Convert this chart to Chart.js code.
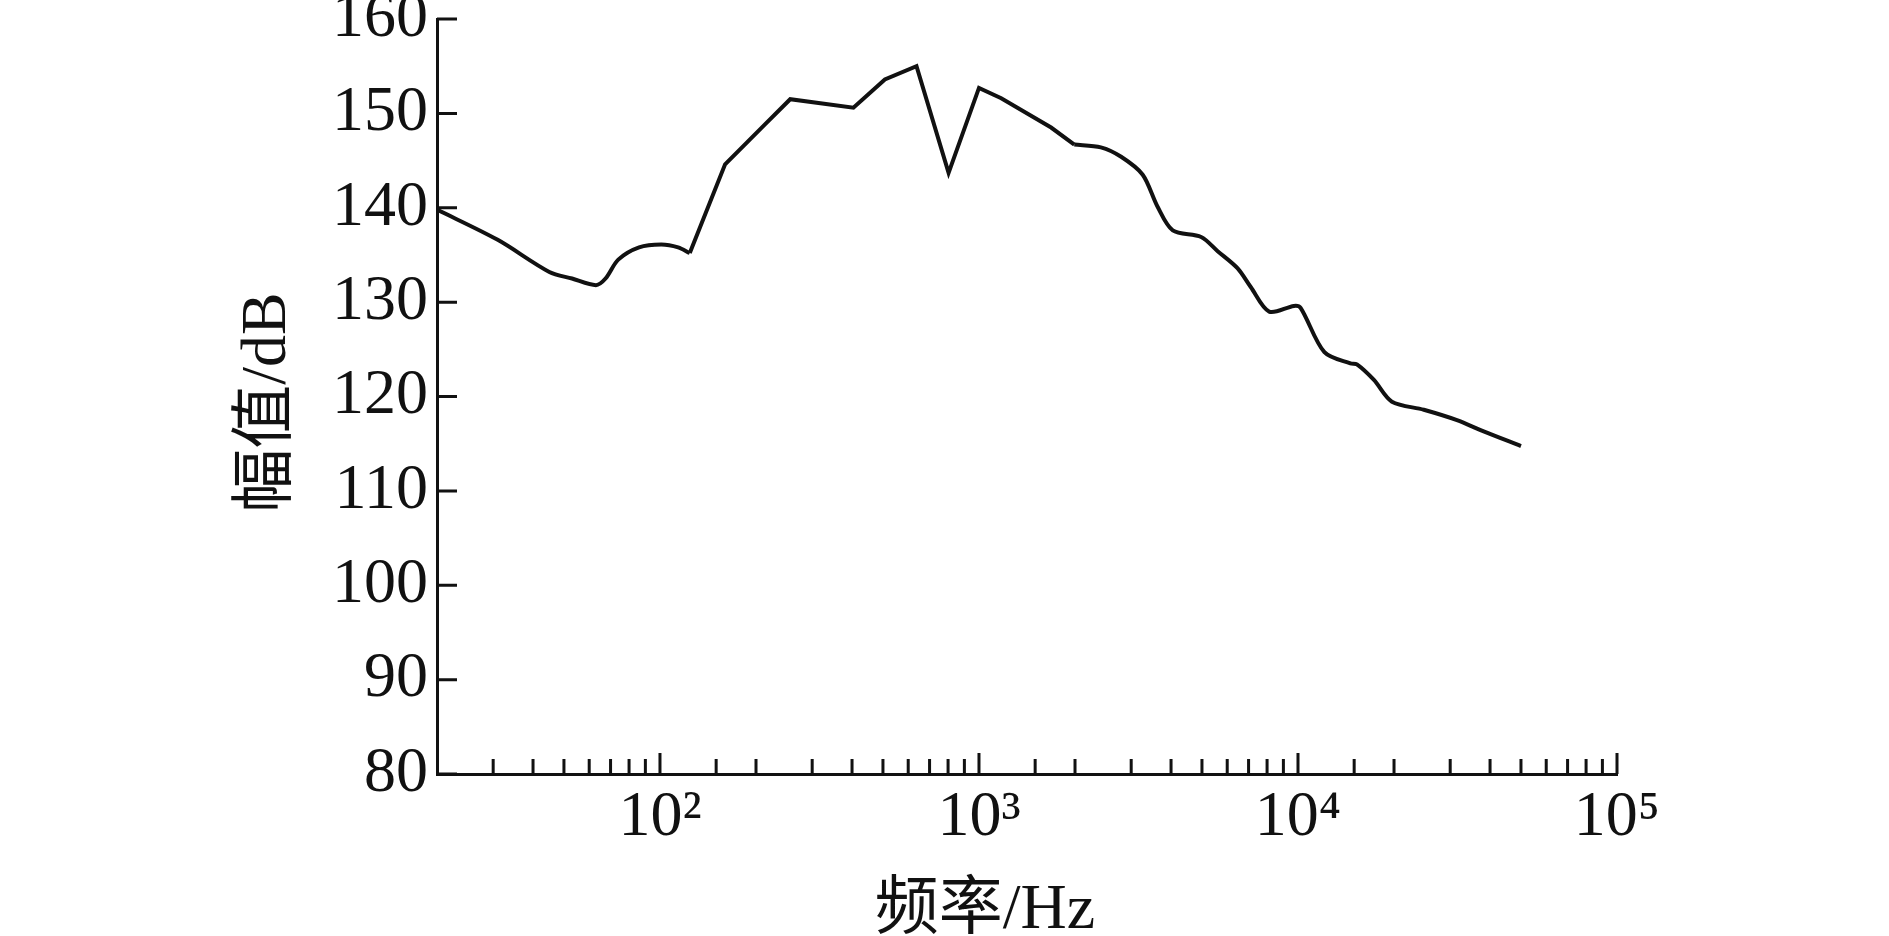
<!DOCTYPE html>
<html>
<head>
<meta charset="utf-8">
<script src="https://cdn.jsdelivr.net/npm/chart.js@4.4.1/dist/chart.umd.min.js"></script>
<style>
  html, body { margin: 0; padding: 0; background: #fff; }
  canvas { display: block; }
</style>
</head>
<body>
<canvas id="spectrum" width="1889" height="936"></canvas>
<script>
// frequency (Hz) and amplitude (dB)
const frequencies = [20, 31, 45, 53, 63, 67.5, 74, 86, 101, 114, 124, 160, 213, 256, 404, 507, 637, 803, 1000, 1174, 1683, 1990, 2410, 2790, 3260, 3630, 4050, 4970, 5600, 6460, 7110, 8120, 9710, 10190, 12100, 14600, 15300, 17300, 19700, 24800, 31500, 38200, 50000];
const amplitudes = [139.8, 136.6, 133.2, 132.5, 131.8, 132.5, 134.5, 135.8, 136.1, 135.8, 135.2, 144.6, 148.8, 151.5, 150.6, 153.6, 155.0, 143.7, 152.7, 151.6, 148.5, 146.7, 146.4, 145.4, 143.5, 140.1, 137.6, 136.9, 135.4, 133.6, 131.6, 129.0, 129.6, 129.4, 124.7, 123.5, 123.4, 121.75, 119.45, 118.6, 117.5, 116.3, 114.75];

// the curve is smooth at both ends and has sharp corners in the middle
const smoothLowEnd = 10;   // index of 124 Hz
const smoothHighStart = 21; // index of 1990 Hz

const decadeValues = [100, 1000, 10000, 100000];
const decadeLabels = ["10²", "10³", "10⁴", "10⁵"];
const xTitle = "频率/Hz";
const yTitle = "幅值/dB";

const INK = "#111";
const TICK_FONT = { family: "'Liberation Serif', 'Times New Roman', serif", size: 64 };
const TITLE_FONT = "64px 'Liberation Serif', 'Noto Sans CJK SC', serif";

function isDecade(v) {
  const l = Math.log10(v);
  return Math.abs(l - Math.round(l)) < 1e-6;
}

function points(from, to) {
  const pts = [];
  for (let i = from; i <= to; i++) pts.push({ x: frequencies[i], y: amplitudes[i] });
  return pts;
}

function piece(from, to, tension) {
  return {
    data: points(from, to),
    borderColor: INK,
    borderWidth: 4,
    borderJoinStyle: "miter",
    pointRadius: 0,
    tension: tension,
    fill: false
  };
}

// inward tick marks and the two axis titles
const axisDecor = {
  id: "axisDecor",
  afterDraw(chart) {
    const { ctx, chartArea, scales } = chart;
    ctx.save();
    ctx.strokeStyle = INK;
    ctx.lineWidth = 3;
    ctx.beginPath();
    scales.y.ticks.forEach(t => {
      const y = scales.y.getPixelForValue(t.value);
      ctx.moveTo(chartArea.left, y);
      ctx.lineTo(chartArea.left + 20, y);
    });
    scales.x.ticks.forEach(t => {
      if (t.value <= scales.x.min + 1e-6) return;
      const x = scales.x.getPixelForValue(t.value);
      ctx.moveTo(x, chartArea.bottom);
      ctx.lineTo(x, chartArea.bottom - (isDecade(t.value) ? 21 : 15));
    });
    ctx.stroke();

    ctx.fillStyle = INK;
    ctx.font = TITLE_FONT;
    ctx.textAlign = "center";
    ctx.textBaseline = "middle";
    ctx.fillText(xTitle, chartArea.left + 548, 911);
    ctx.translate(268, (chartArea.top + chartArea.bottom) / 2 + 6);
    ctx.rotate(-Math.PI / 2);
    ctx.fillText(yTitle, 0, 0);
    ctx.restore();
  }
};

new Chart(document.getElementById("spectrum"), {
  type: "line",
  data: {
    datasets: [
      piece(0, smoothLowEnd, 0.3),
      piece(smoothLowEnd, smoothHighStart, 0),
      piece(smoothHighStart, frequencies.length - 1, 0.3)
    ]
  },
  options: {
    responsive: false,
    animation: false,
    events: [],
    layout: { padding: { top: 19, right: 272, left: 0, bottom: 0 } },
    plugins: { legend: { display: false }, tooltip: { enabled: false } },
    scales: {
      x: {
        type: "logarithmic",
        min: 20,
        max: 100000,
        grid: { display: false, drawTicks: false },
        border: { display: true, color: INK, width: 3 },
        ticks: {
          autoSkip: false,
          maxRotation: 0,
          padding: 6,
          color: INK,
          font: TICK_FONT,
          callback: v => {
            const i = decadeValues.findIndex(d => Math.abs(d - v) < 1e-6 * d);
            return i >= 0 ? decadeLabels[i] : "";
          }
        },
        afterFit: s => {
          s.height = 162;
          s.paddingLeft = 0;
          s.paddingRight = 0;
        }
      },
      y: {
        min: 80,
        max: 160,
        grid: { display: false, drawTicks: false },
        border: { display: true, color: INK, width: 3 },
        ticks: { stepSize: 10, padding: 9, color: INK, font: TICK_FONT },
        afterFit: s => {
          s.width = 437;
          s.paddingTop = 0;
          s.paddingBottom = 0;
        }
      }
    }
  },
  plugins: [axisDecor]
});
</script>
</body>
</html>
